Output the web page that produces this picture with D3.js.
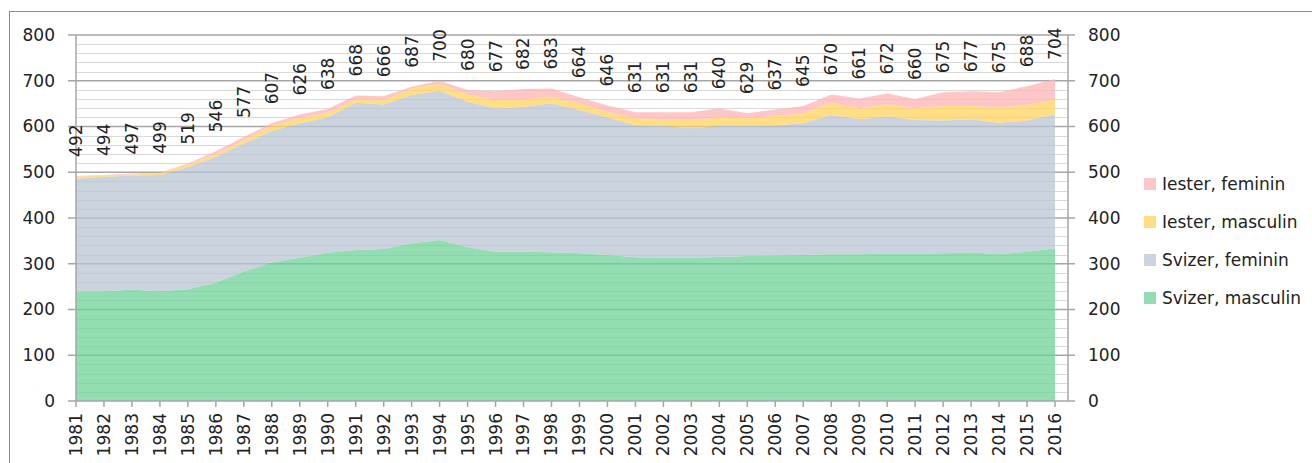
<!DOCTYPE html>
<html><head><meta charset="utf-8">
<script src="https://cdn.jsdelivr.net/npm/d3@7"></script>
<style>
html,body{margin:0;padding:0;background:#fff;}
svg{display:block;font-family:"DejaVu Sans",sans-serif;}
</style></head>
<body>
<svg id="c" width="1312" height="463"></svg>
<script>
const years = [1981,1982,1983,1984,1985,1986,1987,1988,1989,1990,1991,1992,1993,1994,1995,1996,1997,1998,1999,2000,2001,2002,2003,2004,2005,2006,2007,2008,2009,2010,2011,2012,2013,2014,2015,2016];
const svizerMasculin = [239,240,243,240,244,259,283,303,313,324,330,332,345,352,336,326,326,325,323,319,314,313,313,315,317,318,319,321,321,322,322,323,325,321,326,334];
const svizerFeminin = [246,250,250,254,267,275,280,287,294,296,322,316,324,326,318,314,317,326,313,301,289,288,283,286,284,285,288,304,295,300,292,290,291,287,287,293];
const iesterMasculin = [5,3,2,4,6,6,7,12,11,10,7,10,14,15,16,18,16,14,15,12,15,15,18,19,17,20,22,27,24,26,26,32,29,33,34,32];
const iesterFeminin = [2,1,2,1,2,6,7,5,8,8,9,8,4,7,10,19,23,18,13,14,13,15,17,20,11,14,16,18,21,24,20,30,32,34,41,45];
const totals = [492,494,497,499,519,546,577,607,626,638,668,666,687,700,680,677,682,683,664,646,631,631,631,640,629,637,645,670,661,672,660,675,677,675,688,704];
const yTicks = [0,100,200,300,400,500,600,700,800];
const seriesNames = ["Svizer, masculin","Svizer, feminin","Iester, masculin","Iester, feminin"];
const seriesColors = ["#6ED298","#BAC4D3","#FFD35C","#FFB3B5"];
const legendColors = ["#92DDB2","#CBD3DE","#FFDE85","#FFC6C8"];

(function(){
const svg = d3.select("#c");
const FS = 17;
const L = 76, R = 1068, T = 35, B = 401;
const x = d3.scalePoint().domain(years).range([76, 1055]);
const y = d3.scaleLinear().domain([0, 800]).range([B, T]);

svg.append("rect").attr("x",9.5).attr("y",11.5).attr("width",1400).attr("height",500)
  .attr("fill","none").attr("stroke","#8c8c8c").attr("stroke-width",1);

const minor = d3.range(20, 800, 20).filter(v => v % 100 !== 0);
svg.append("g").selectAll("line").data(minor).join("line")
  .attr("x1", L).attr("x2", R).attr("y1", d => Math.round(y(d))+0.5).attr("y2", d => Math.round(y(d))+0.5)
  .attr("stroke","#d9d9d9").attr("stroke-width",1);
svg.append("g").selectAll("line").data(yTicks.filter(v=>v>0)).join("line")
  .attr("x1", 68).attr("x2", 1075).attr("y1", d => y(d)).attr("y2", d => y(d))
  .attr("stroke","#a6a6a6").attr("stroke-width",1.5);

const rows = years.map((yr,i) => ({year: yr,
  "Svizer, masculin": svizerMasculin[i], "Svizer, feminin": svizerFeminin[i],
  "Iester, masculin": iesterMasculin[i], "Iester, feminin": iesterFeminin[i]}));
const stack = d3.stack().keys(seriesNames)(rows);
const area = d3.area().x(d => x(d.data.year)).y0(d => y(d[0])).y1(d => y(d[1]));
svg.append("g").selectAll("path").data(stack).join("path")
  .attr("d", area).attr("fill", (d,i) => seriesColors[i]).attr("fill-opacity", 0.75);

svg.append("line").attr("x1",L).attr("x2",L).attr("y1",T).attr("y2",B).attr("stroke","#a6a6a6").attr("stroke-width",1.5);
svg.append("line").attr("x1",R).attr("x2",R).attr("y1",T).attr("y2",B).attr("stroke","#a6a6a6").attr("stroke-width",1.5);
svg.append("line").attr("x1",68).attr("x2",1075).attr("y1",B).attr("y2",B).attr("stroke","#a6a6a6").attr("stroke-width",1.5);
svg.append("g").selectAll("line").data(years).join("line")
  .attr("x1", d => x(d)).attr("x2", d => x(d)).attr("y1", B).attr("y2", B+6)
  .attr("stroke","#a6a6a6").attr("stroke-width",1.5);

svg.append("g").selectAll("text").data(yTicks).join("text")
  .attr("x", 55).attr("y", d => y(d)).attr("dy","0.35em").attr("text-anchor","end")
  .attr("font-size",FS).attr("fill","#222").text(d => d);
svg.append("g").selectAll("text").data(yTicks).join("text")
  .attr("x", 1088).attr("y", d => y(d)).attr("dy","0.35em").attr("text-anchor","start")
  .attr("font-size",FS).attr("fill","#222").text(d => d);

svg.append("g").selectAll("text").data(years).join("text")
  .attr("transform", d => `translate(${x(d)},${B+12}) rotate(-90)`)
  .attr("dy","0.35em").attr("text-anchor","end")
  .attr("font-size",FS).attr("fill","#222").text(d => d);

const topLayer = stack[stack.length-1];
svg.append("g").selectAll("text").data(topLayer).join("text")
  .attr("transform", d => `translate(${x(d.data.year)},${y(d[1]) - 19}) rotate(-90)`)
  .attr("dy","0.35em").attr("text-anchor","start")
  .attr("font-size",FS).attr("fill","#222").text((d,i) => totals[i]);

const legOrder = [3,2,1,0];
const lg = svg.append("g").selectAll("g").data(legOrder).join("g")
  .attr("transform", (d,i) => `translate(1144,${184 + i*38})`);
lg.append("rect").attr("x",0).attr("y",-6).attr("width",12).attr("height",12).attr("fill", d => legendColors[d]);
lg.append("text").attr("x",18).attr("y",0).attr("dy","0.35em").attr("font-size",FS).attr("fill","#222").text(d => seriesNames[d]);
})();
</script>
</body></html>
